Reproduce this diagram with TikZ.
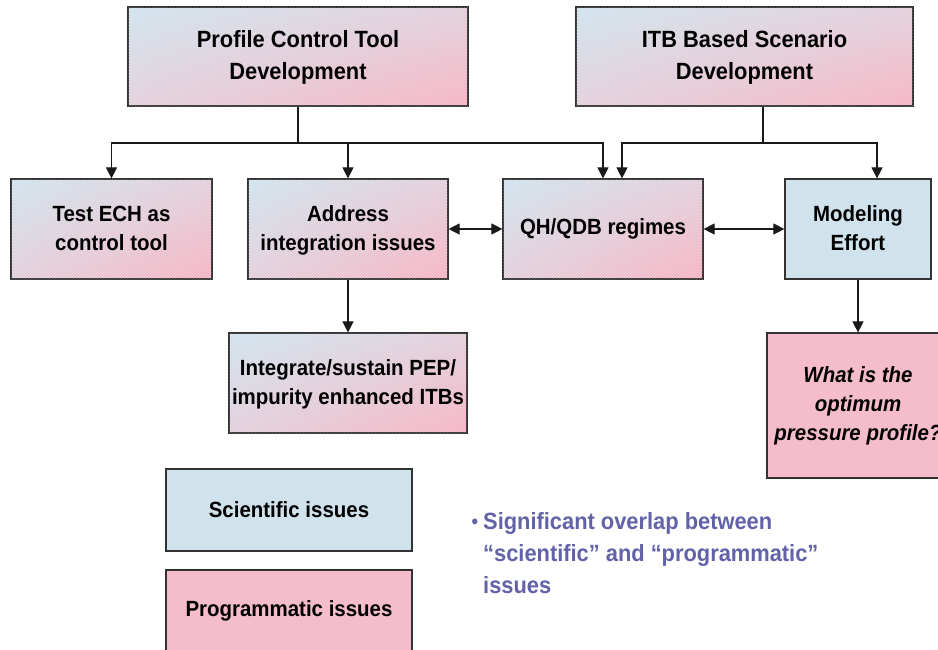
\documentclass[tikz,border=0pt]{standalone}
\usepackage{fontspec}
\setmainfont{Liberation Sans}[FakeStretch=0.93]
\usetikzlibrary{arrows.meta,patterns,shadings}
\definecolor{sciblue}{RGB}{208,227,236}
\definecolor{progpink}{RGB}{245,188,204}
\definecolor{bulletcol}{RGB}{98,98,168}
\colorlet{midmix}{sciblue!50!progpink}
\tikzset{
  box/.style={draw=black!80, line width=1.2pt, font=\bfseries, align=center, inner sep=2pt},
  grad/.style={box, upper left=sciblue, lower right=progpink!95!red, upper right=midmix, lower left=midmix,
    postaction={pattern=north east lines, pattern color=white, opacity=0.25}},
  big/.style={font=\fontsize{23.5}{32}\selectfont\bfseries},
  mid/.style={font=\fontsize{22}{29}\selectfont\bfseries},
  arr/.style={line width=1.1pt, draw=black!90, -{Triangle[length=11pt,width=11pt]}},
  darr/.style={line width=1.1pt, draw=black!90, {Triangle[length=11pt,width=11pt]}-{Triangle[length=11pt,width=11pt]}},
  ln/.style={line width=1.1pt, draw=black!90}
}
\begin{document}
\begin{tikzpicture}[x=1pt,y=-1pt]
\useasboundingbox (0,0) rectangle (938,649);
\clip (0,0) rectangle (938,649);
\fill[white] (0,0) rectangle (938,649);
% top boxes
\node[grad, big, minimum width=340pt, minimum height=99pt, text depth=3pt] (pct) at (298,56.5) {Profile Control Tool\\Development};
\node[grad, big, minimum width=337pt, minimum height=99pt, text depth=3pt] (itb) at (744.5,56.5) {ITB Based Scenario\\Development};
% middle row
\node[grad, mid, minimum width=201pt, minimum height=100pt, text depth=2pt] (ech) at (111.5,229) {Test ECH as\\control tool};
\node[grad, mid, minimum width=200pt, minimum height=100pt, text depth=2pt] (addr) at (348,229) {Address\\integration issues};
\node[grad, mid, minimum width=200pt, minimum height=100pt] (qh) at (603,229) {QH/QDB regimes};
\node[box, mid, fill=sciblue, minimum width=146pt, minimum height=100pt, text depth=2pt] (model) at (858,229) {Modeling\\Effort};
% lower row
\node[grad, mid, minimum width=238pt, minimum height=100pt, text depth=2pt] (integ) at (348,383) {Integrate/sustain PEP/\\impurity enhanced ITBs};
\node[box, mid, fill=progpink, minimum width=182pt, minimum height=145pt] (what) at (858,405.5) {\itshape What is the\\\itshape optimum\\\itshape pressure profile?};
% legend
\node[box, mid, fill=sciblue, minimum width=246pt, minimum height=82pt] (sci) at (289,510) {Scientific issues};
\node[box, mid, fill=progpink, minimum width=246pt, minimum height=82pt] (prog) at (289,611) {Programmatic issues};
% bullet
\node[anchor=base west, align=left, inner sep=0pt, text=bulletcol, font=\fontsize{23.5}{32}\selectfont\bfseries] (note) at (483,593)
  {\llap{{\fontsize{20}{20}\selectfont\raisebox{1pt}{•}}\hspace{5pt}}Significant overlap between\\“scientific” and “programmatic”\\issues};
% connectors
\coordinate (pj) at (298,143);
\coordinate (ij) at (763,143);
\draw[ln] (pct.south) -- (pj);
\draw[arr] (pj) -| (ech.north);
\draw[arr] (pj) -| (addr.north);
\draw[arr] (pj) -| (qh.north);
\draw[ln] ([xshift=18.5pt]itb.south) -- (ij);
\draw[arr] (ij) -| ([xshift=19pt]qh.north);
\draw[arr] (ij) -| ([xshift=19pt]model.north);
\draw[darr] (addr.east) -- (qh.west);
\draw[darr] (qh.east) -- (model.west);
\draw[arr] (addr.south) -- (integ.north);
\draw[arr] (model.south) -- (what.north);
\end{tikzpicture}
\end{document}
